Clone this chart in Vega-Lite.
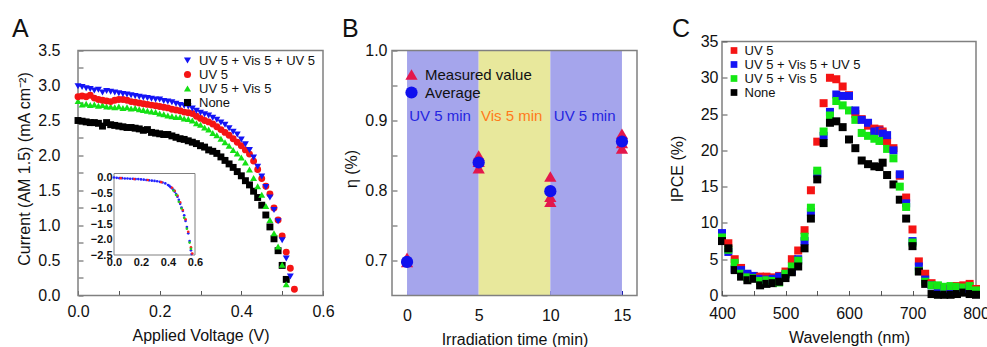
{
  "$schema": "https://vega.github.io/schema/vega-lite/v6.json",
  "padding": {"left": 12, "top": 15.5, "right": 0, "bottom": 0},
  "config": {
    "font": "Liberation Sans",
    "view": {"stroke": "#808080", "strokeWidth": 1.5},
    "axis": {"domain": false, "grid": false, "labelFlush": false, "labelFontSize": 16, "titleFontSize": 16, "titleFontWeight": "normal", "labelColor": "#111", "titleColor": "#111", "tickColor": "#555", "tickSize": -5},
    "legend": {"padding": 0, "labelColor": "#111"},
    "title": {"fontSize": 25, "fontWeight": "normal", "anchor": "start", "frame": "group", "color": "#111"}
  },
  "datasets": {
    "jv": [
      {"V":0.00,"UV 5 + Vis 5 + UV 5":2.99,"UV 5":2.84,"UV 5 + Vis 5":2.78,"None":2.50},
      {"V":0.01,"UV 5 + Vis 5 + UV 5":2.98,"UV 5":2.85,"UV 5 + Vis 5":2.73,"None":2.49},
      {"V":0.02,"UV 5 + Vis 5 + UV 5":2.96,"UV 5":2.84,"UV 5 + Vis 5":2.74,"None":2.48},
      {"V":0.03,"UV 5 + Vis 5 + UV 5":2.95,"UV 5":2.86,"UV 5 + Vis 5":2.72,"None":2.47},
      {"V":0.04,"UV 5 + Vis 5 + UV 5":2.93,"UV 5":2.82,"UV 5 + Vis 5":2.73,"None":2.47},
      {"V":0.05,"UV 5 + Vis 5 + UV 5":2.94,"UV 5":2.80,"UV 5 + Vis 5":2.71,"None":2.46},
      {"V":0.06,"UV 5 + Vis 5 + UV 5":2.90,"UV 5":2.79,"UV 5 + Vis 5":2.72,"None":2.42},
      {"V":0.07,"UV 5 + Vis 5 + UV 5":2.92,"UV 5":2.78,"UV 5 + Vis 5":2.70,"None":2.47},
      {"V":0.08,"UV 5 + Vis 5 + UV 5":2.91,"UV 5":2.77,"UV 5 + Vis 5":2.70,"None":2.44},
      {"V":0.09,"UV 5 + Vis 5 + UV 5":2.90,"UV 5":2.79,"UV 5 + Vis 5":2.69,"None":2.43},
      {"V":0.10,"UV 5 + Vis 5 + UV 5":2.89,"UV 5":2.80,"UV 5 + Vis 5":2.70,"None":2.42},
      {"V":0.11,"UV 5 + Vis 5 + UV 5":2.88,"UV 5":2.80,"UV 5 + Vis 5":2.68,"None":2.41},
      {"V":0.12,"UV 5 + Vis 5 + UV 5":2.87,"UV 5":2.79,"UV 5 + Vis 5":2.69,"None":2.40},
      {"V":0.13,"UV 5 + Vis 5 + UV 5":2.86,"UV 5":2.77,"UV 5 + Vis 5":2.67,"None":2.40},
      {"V":0.14,"UV 5 + Vis 5 + UV 5":2.85,"UV 5":2.76,"UV 5 + Vis 5":2.68,"None":2.39},
      {"V":0.15,"UV 5 + Vis 5 + UV 5":2.84,"UV 5":2.75,"UV 5 + Vis 5":2.66,"None":2.38},
      {"V":0.16,"UV 5 + Vis 5 + UV 5":2.83,"UV 5":2.74,"UV 5 + Vis 5":2.65,"None":2.36},
      {"V":0.17,"UV 5 + Vis 5 + UV 5":2.82,"UV 5":2.73,"UV 5 + Vis 5":2.64,"None":2.37},
      {"V":0.18,"UV 5 + Vis 5 + UV 5":2.81,"UV 5":2.72,"UV 5 + Vis 5":2.63,"None":2.33},
      {"V":0.19,"UV 5 + Vis 5 + UV 5":2.80,"UV 5":2.71,"UV 5 + Vis 5":2.62,"None":2.32},
      {"V":0.20,"UV 5 + Vis 5 + UV 5":2.80,"UV 5":2.70,"UV 5 + Vis 5":2.60,"None":2.31},
      {"V":0.21,"UV 5 + Vis 5 + UV 5":2.78,"UV 5":2.69,"UV 5 + Vis 5":2.59,"None":2.30},
      {"V":0.22,"UV 5 + Vis 5 + UV 5":2.77,"UV 5":2.68,"UV 5 + Vis 5":2.57,"None":2.30},
      {"V":0.23,"UV 5 + Vis 5 + UV 5":2.76,"UV 5":2.66,"UV 5 + Vis 5":2.56,"None":2.28},
      {"V":0.24,"UV 5 + Vis 5 + UV 5":2.74,"UV 5":2.65,"UV 5 + Vis 5":2.55,"None":2.26},
      {"V":0.25,"UV 5 + Vis 5 + UV 5":2.72,"UV 5":2.64,"UV 5 + Vis 5":2.55,"None":2.24},
      {"V":0.26,"UV 5 + Vis 5 + UV 5":2.71,"UV 5":2.62,"UV 5 + Vis 5":2.53,"None":2.23},
      {"V":0.27,"UV 5 + Vis 5 + UV 5":2.70,"UV 5":2.61,"UV 5 + Vis 5":2.52,"None":2.21},
      {"V":0.28,"UV 5 + Vis 5 + UV 5":2.67,"UV 5":2.60,"UV 5 + Vis 5":2.50,"None":2.19},
      {"V":0.29,"UV 5 + Vis 5 + UV 5":2.64,"UV 5":2.56,"UV 5 + Vis 5":2.46,"None":2.17},
      {"V":0.30,"UV 5 + Vis 5 + UV 5":2.61,"UV 5":2.53,"UV 5 + Vis 5":2.44,"None":2.14},
      {"V":0.31,"UV 5 + Vis 5 + UV 5":2.59,"UV 5":2.50,"UV 5 + Vis 5":2.40,"None":2.12},
      {"V":0.32,"UV 5 + Vis 5 + UV 5":2.57,"UV 5":2.48,"UV 5 + Vis 5":2.37,"None":2.08},
      {"V":0.33,"UV 5 + Vis 5 + UV 5":2.54,"UV 5":2.45,"UV 5 + Vis 5":2.32,"None":2.06},
      {"V":0.34,"UV 5 + Vis 5 + UV 5":2.51,"UV 5":2.41,"UV 5 + Vis 5":2.29,"None":2.03},
      {"V":0.35,"UV 5 + Vis 5 + UV 5":2.47,"UV 5":2.37,"UV 5 + Vis 5":2.24,"None":1.98},
      {"V":0.36,"UV 5 + Vis 5 + UV 5":2.44,"UV 5":2.33,"UV 5 + Vis 5":2.19,"None":1.93},
      {"V":0.37,"UV 5 + Vis 5 + UV 5":2.39,"UV 5":2.29,"UV 5 + Vis 5":2.14,"None":1.88},
      {"V":0.38,"UV 5 + Vis 5 + UV 5":2.34,"UV 5":2.24,"UV 5 + Vis 5":2.08,"None":1.83},
      {"V":0.39,"UV 5 + Vis 5 + UV 5":2.30,"UV 5":2.19,"UV 5 + Vis 5":2.03,"None":1.77},
      {"V":0.40,"UV 5 + Vis 5 + UV 5":2.23,"UV 5":2.14,"UV 5 + Vis 5":1.97,"None":1.71},
      {"V":0.41,"UV 5 + Vis 5 + UV 5":2.16,"UV 5":2.08,"UV 5 + Vis 5":1.90,"None":1.64},
      {"V":0.42,"UV 5 + Vis 5 + UV 5":2.08,"UV 5":2.02,"UV 5 + Vis 5":1.80,"None":1.58},
      {"V":0.43,"UV 5 + Vis 5 + UV 5":1.97,"UV 5":1.92,"UV 5 + Vis 5":1.68,"None":1.49},
      {"V":0.44,"UV 5 + Vis 5 + UV 5":1.84,"UV 5":1.80,"UV 5 + Vis 5":1.56,"None":1.40},
      {"V":0.45,"UV 5 + Vis 5 + UV 5":1.70,"UV 5":1.67,"UV 5 + Vis 5":1.44,"None":1.29},
      {"V":0.46,"UV 5 + Vis 5 + UV 5":1.55,"UV 5":1.56,"UV 5 + Vis 5":1.28,"None":1.15},
      {"V":0.47,"UV 5 + Vis 5 + UV 5":1.40,"UV 5":1.45,"UV 5 + Vis 5":1.08,"None":0.98},
      {"V":0.48,"UV 5 + Vis 5 + UV 5":1.22,"UV 5":1.25,"UV 5 + Vis 5":0.89,"None":0.81},
      {"V":0.49,"UV 5 + Vis 5 + UV 5":1.06,"UV 5":1.08,"UV 5 + Vis 5":0.70,"None":0.64},
      {"V":0.50,"UV 5 + Vis 5 + UV 5":0.79,"UV 5":0.85,"UV 5 + Vis 5":0.44,"None":0.43},
      {"V":0.51,"UV 5 + Vis 5 + UV 5":0.53,"UV 5":0.62,"UV 5 + Vis 5":0.16,"None":0.23},
      {"V":0.52,"UV 5 + Vis 5 + UV 5":0.27,"UV 5":0.39},
      {"V":0.53,"UV 5":0.09}
    ],
    "inset": [
      {"V":0.00,"I":0.00,"s":"b"},{"V":0.02,"I":-0.01,"s":"b"},{"V":0.04,"I":-0.02,"s":"b"},{"V":0.06,"I":-0.02,"s":"b"},
      {"V":0.08,"I":-0.03,"s":"b"},{"V":0.10,"I":-0.03,"s":"b"},{"V":0.12,"I":-0.04,"s":"b"},{"V":0.14,"I":-0.04,"s":"b"},
      {"V":0.16,"I":-0.05,"s":"b"},{"V":0.18,"I":-0.05,"s":"b"},{"V":0.20,"I":-0.06,"s":"b"},{"V":0.22,"I":-0.07,"s":"b"},
      {"V":0.24,"I":-0.08,"s":"b"},{"V":0.26,"I":-0.09,"s":"b"},{"V":0.28,"I":-0.10,"s":"b"},{"V":0.30,"I":-0.11,"s":"b"},
      {"V":0.32,"I":-0.12,"s":"b"},{"V":0.34,"I":-0.14,"s":"b"},{"V":0.36,"I":-0.16,"s":"b"},{"V":0.38,"I":-0.19,"s":"b"},
      {"V":0.40,"I":-0.24,"s":"b"},{"V":0.41,"I":-0.27,"s":"b"},{"V":0.42,"I":-0.31,"s":"b"},{"V":0.43,"I":-0.35,"s":"b"},
      {"V":0.44,"I":-0.40,"s":"b"},{"V":0.45,"I":-0.46,"s":"b"},{"V":0.46,"I":-0.53,"s":"b"},{"V":0.47,"I":-0.62,"s":"b"},
      {"V":0.48,"I":-0.72,"s":"b"},{"V":0.49,"I":-0.85,"s":"b"},{"V":0.50,"I":-0.97,"s":"b"},{"V":0.51,"I":-1.08,"s":"b"},
      {"V":0.52,"I":-1.22,"s":"b"},{"V":0.53,"I":-1.40,"s":"b"},{"V":0.54,"I":-1.60,"s":"b"},{"V":0.55,"I":-1.80,"s":"b"},
      {"V":0.56,"I":-2.05,"s":"b"},{"V":0.57,"I":-2.35,"s":"b"},{"V":0.575,"I":-2.47,"s":"b"},
      {"V":0.05,"I":-0.02,"s":"r"},{"V":0.15,"I":-0.05,"s":"r"},{"V":0.25,"I":-0.08,"s":"r"},{"V":0.35,"I":-0.15,"s":"r"},
      {"V":0.43,"I":-0.33,"s":"r"},{"V":0.45,"I":-0.43,"s":"r"},{"V":0.47,"I":-0.58,"s":"r"},{"V":0.49,"I":-0.80,"s":"r"},
      {"V":0.51,"I":-1.05,"s":"r"},{"V":0.53,"I":-1.35,"s":"r"},{"V":0.55,"I":-1.75,"s":"r"},{"V":0.57,"I":-2.25,"s":"r"},
      {"V":0.58,"I":-2.45,"s":"r"},
      {"V":0.44,"I":-0.42,"s":"g"},{"V":0.46,"I":-0.56,"s":"g"},{"V":0.48,"I":-0.78,"s":"g"},{"V":0.50,"I":-1.00,"s":"g"},
      {"V":0.52,"I":-1.30,"s":"g"},{"V":0.54,"I":-1.65,"s":"g"},{"V":0.56,"I":-2.10,"s":"g"},{"V":0.57,"I":-2.30,"s":"g"}
    ],
    "bands": [
      {"start":0,"end":5,"phase":"UV"},
      {"start":5,"end":10,"phase":"Vis"},
      {"start":10,"end":15,"phase":"UV"}
    ],
    "bandLabels": [
      {"t":2.3,"eta":0.906,"label":"UV 5 min","phase":"UV"},
      {"t":7.3,"eta":0.906,"label":"Vis 5 min","phase":"Vis"},
      {"t":12.4,"eta":0.906,"label":"UV 5 min","phase":"UV"}
    ],
    "eta": [
      {"t":0,"eta":0.704,"series":"Measured value"},
      {"t":0,"eta":0.698,"series":"Measured value"},
      {"t":5,"eta":0.850,"series":"Measured value"},
      {"t":5,"eta":0.841,"series":"Measured value"},
      {"t":5,"eta":0.832,"series":"Measured value"},
      {"t":10,"eta":0.820,"series":"Measured value"},
      {"t":10,"eta":0.791,"series":"Measured value"},
      {"t":10,"eta":0.784,"series":"Measured value"},
      {"t":15,"eta":0.881,"series":"Measured value"},
      {"t":15,"eta":0.868,"series":"Measured value"},
      {"t":15,"eta":0.860,"series":"Measured value"},
      {"t":0,"eta":0.698,"series":"Average"},
      {"t":5,"eta":0.840,"series":"Average"},
      {"t":10,"eta":0.799,"series":"Average"},
      {"t":15,"eta":0.870,"series":"Average"}
    ],
    "ipce": [
      {"W":400,"UV 5":8.3,"UV 5 + Vis 5 + UV 5":8.6,"UV 5 + Vis 5":8.0,"None":7.5},
      {"W":410,"UV 5":7.2,"UV 5 + Vis 5 + UV 5":6.0,"UV 5 + Vis 5":6.3,"None":6.5},
      {"W":420,"UV 5":5.0,"UV 5 + Vis 5 + UV 5":3.7,"UV 5 + Vis 5":4.5,"None":3.5},
      {"W":430,"UV 5":3.8,"UV 5 + Vis 5 + UV 5":3.5,"UV 5 + Vis 5":3.0,"None":2.6},
      {"W":440,"UV 5":2.8,"UV 5 + Vis 5 + UV 5":3.0,"UV 5 + Vis 5":2.5,"None":2.1},
      {"W":450,"UV 5":2.6,"UV 5 + Vis 5 + UV 5":2.7,"UV 5 + Vis 5":2.4,"None":2.3},
      {"W":460,"UV 5":2.6,"UV 5 + Vis 5 + UV 5":2.3,"UV 5 + Vis 5":2.0,"None":1.4},
      {"W":470,"UV 5":2.6,"UV 5 + Vis 5 + UV 5":2.2,"UV 5 + Vis 5":2.1,"None":1.6},
      {"W":480,"UV 5":2.5,"UV 5 + Vis 5 + UV 5":2.3,"UV 5 + Vis 5":2.0,"None":1.7},
      {"W":490,"UV 5":2.7,"UV 5 + Vis 5 + UV 5":2.6,"UV 5 + Vis 5":1.8,"None":1.9},
      {"W":500,"UV 5":3.3,"UV 5 + Vis 5 + UV 5":2.9,"UV 5 + Vis 5":3.0,"None":2.4},
      {"W":510,"UV 5":5.0,"UV 5 + Vis 5 + UV 5":3.4,"UV 5 + Vis 5":4.0,"None":3.2},
      {"W":520,"UV 5":6.2,"UV 5 + Vis 5 + UV 5":5.0,"UV 5 + Vis 5":4.8,"None":4.0},
      {"W":530,"UV 5":9.0,"UV 5 + Vis 5 + UV 5":7.5,"UV 5 + Vis 5":8.1,"None":6.5},
      {"W":540,"UV 5":14.5,"UV 5 + Vis 5 + UV 5":11.5,"UV 5 + Vis 5":12.1,"None":10.6},
      {"W":550,"UV 5":21.2,"UV 5 + Vis 5 + UV 5":16.8,"UV 5 + Vis 5":17.2,"None":16.0},
      {"W":560,"UV 5":26.5,"UV 5 + Vis 5 + UV 5":22.0,"UV 5 + Vis 5":22.6,"None":21.0},
      {"W":570,"UV 5":30.0,"UV 5 + Vis 5 + UV 5":25.3,"UV 5 + Vis 5":24.8,"None":23.8},
      {"W":580,"UV 5":29.8,"UV 5 + Vis 5 + UV 5":27.7,"UV 5 + Vis 5":26.8,"None":24.0},
      {"W":590,"UV 5":28.8,"UV 5 + Vis 5 + UV 5":27.5,"UV 5 + Vis 5":26.2,"None":23.2},
      {"W":600,"UV 5":27.6,"UV 5 + Vis 5 + UV 5":27.5,"UV 5 + Vis 5":25.5,"None":21.5},
      {"W":610,"UV 5":25.0,"UV 5 + Vis 5 + UV 5":25.5,"UV 5 + Vis 5":24.2,"None":20.3},
      {"W":620,"UV 5":24.3,"UV 5 + Vis 5 + UV 5":24.2,"UV 5 + Vis 5":22.4,"None":18.6},
      {"W":630,"UV 5":23.4,"UV 5 + Vis 5 + UV 5":23.8,"UV 5 + Vis 5":22.0,"None":18.1},
      {"W":640,"UV 5":23.0,"UV 5 + Vis 5 + UV 5":22.6,"UV 5 + Vis 5":21.6,"None":17.8},
      {"W":648,"UV 5":22.9,"UV 5 + Vis 5 + UV 5":22.7,"UV 5 + Vis 5":21.3,"None":17.7},
      {"W":653,"UV 5":22.6,"UV 5 + Vis 5 + UV 5":22.3,"UV 5 + Vis 5":21.3,"None":18.3},
      {"W":660,"UV 5":21.2,"UV 5 + Vis 5 + UV 5":22.1,"UV 5 + Vis 5":20.2,"None":16.6},
      {"W":670,"UV 5":20.3,"UV 5 + Vis 5 + UV 5":20.0,"UV 5 + Vis 5":18.9,"None":15.3},
      {"W":680,"UV 5":16.5,"UV 5 + Vis 5 + UV 5":16.7,"UV 5 + Vis 5":15.0,"None":13.2},
      {"W":690,"UV 5":13.5,"UV 5 + Vis 5 + UV 5":12.7,"UV 5 + Vis 5":12.2,"None":10.6},
      {"W":700,"UV 5":9.1,"UV 5 + Vis 5 + UV 5":7.5,"UV 5 + Vis 5":7.3,"None":6.8},
      {"W":710,"UV 5":4.7,"UV 5 + Vis 5 + UV 5":4.0,"UV 5 + Vis 5":3.4,"None":3.3},
      {"W":720,"UV 5":3.0,"UV 5 + Vis 5 + UV 5":2.2,"UV 5 + Vis 5":1.9,"None":1.6},
      {"W":730,"UV 5":1.7,"UV 5 + Vis 5 + UV 5":1.4,"UV 5 + Vis 5":1.4,"None":0.2},
      {"W":740,"UV 5":1.2,"UV 5 + Vis 5 + UV 5":1.0,"UV 5 + Vis 5":1.4,"None":0.1},
      {"W":750,"UV 5":1.1,"UV 5 + Vis 5 + UV 5":1.0,"UV 5 + Vis 5":1.2,"None":0.1},
      {"W":760,"UV 5":1.0,"UV 5 + Vis 5 + UV 5":0.9,"UV 5 + Vis 5":1.3,"None":0.1},
      {"W":770,"UV 5":1.3,"UV 5 + Vis 5 + UV 5":0.6,"UV 5 + Vis 5":1.2,"None":0.2},
      {"W":780,"UV 5":1.4,"UV 5 + Vis 5 + UV 5":1.0,"UV 5 + Vis 5":1.1,"None":0.4},
      {"W":790,"UV 5":1.6,"UV 5 + Vis 5 + UV 5":0.9,"UV 5 + Vis 5":1.3,"None":0.2},
      {"W":800,"UV 5":0.9,"UV 5 + Vis 5 + UV 5":0.5,"UV 5 + Vis 5":0.7,"None":0.1}
    ]
  },
  "spacing": 30,
  "resolve": {"scale": {"color": "independent", "shape": "independent", "fill": "independent"}},
  "hconcat": [
    {
      "spacing": 7,
      "resolve": {"scale": {"color": "independent", "shape": "independent", "fill": "independent"}},
      "hconcat": [
        {
          "width": 245,
          "height": 254,
          "view": {"stroke": null},
          "title": {"text": "A", "dx": -66, "offset": 0},
          "layer": [
            {
              "layer": [
                {
                  "data": {"values": [{}]},
                  "mark": {"type": "rect", "filled": false, "color": "#808080", "strokeWidth": 1.5},
                  "encoding": {
                    "x": {"datum": 0, "type": "quantitative", "scale": {"domain": [0, 0.6], "nice": false},
                          "axis": {"title": "Applied Voltage (V)", "values": [0, 0.1, 0.2, 0.3, 0.4, 0.5, 0.6], "format": ".1f", "labelExpr": "indexof(['0.0','0.2','0.4','0.6'], datum.label) >= 0 ? datum.label : ''", "labelPadding": 13, "titlePadding": 8}},
                    "x2": {"datum": 0.6},
                    "y": {"datum": 0, "type": "quantitative", "scale": {"domain": [0, 3.62857], "nice": false},
                          "axis": {"title": "Current (AM 1.5) (mA cm⁻²)", "values": [0, 0.25, 0.5, 0.75, 1, 1.25, 1.5, 1.75, 2, 2.25, 2.5, 2.75, 3, 3.25, 3.5], "labelExpr": "datum.value * 4 % 2 == 0 ? format(datum.value, '.1f') : ''", "labelPadding": 23, "titlePadding": 5}},
                    "y2": {"datum": 3.5}
                  }
                },
                {
                  "data": {"name": "jv"},
                  "transform": [{"fold": ["None", "UV 5 + Vis 5", "UV 5", "UV 5 + Vis 5 + UV 5"], "as": ["series", "I"]}],
                  "mark": {"type": "point", "filled": true, "size": 48, "opacity": 1},
                  "encoding": {
                    "x": {"field": "V", "type": "quantitative", "scale": {"domain": [0, 0.6], "nice": false},
                          "axis": {"title": "Applied Voltage (V)", "values": [0, 0.1, 0.2, 0.3, 0.4, 0.5, 0.6], "format": ".1f", "labelExpr": "indexof(['0.0','0.2','0.4','0.6'], datum.label) >= 0 ? datum.label : ''", "labelPadding": 13, "titlePadding": 8}},
                    "y": {"field": "I", "type": "quantitative", "scale": {"domain": [0, 3.62857], "nice": false},
                          "axis": {"title": "Current (AM 1.5) (mA cm⁻²)", "values": [0, 0.25, 0.5, 0.75, 1, 1.25, 1.5, 1.75, 2, 2.25, 2.5, 2.75, 3, 3.25, 3.5], "labelExpr": "datum.value * 4 % 2 == 0 ? format(datum.value, '.1f') : ''", "labelPadding": 23, "titlePadding": 5}},
                    "color": {"field": "series", "type": "nominal",
                              "scale": {"domain": ["UV 5 + Vis 5 + UV 5", "UV 5", "UV 5 + Vis 5", "None"], "range": ["#1414f5", "#f51414", "#14e014", "#000000"]},
                              "legend": {"title": null, "orient": "none", "legendX": 103, "legendY": 12.5, "labelFontSize": 13, "symbolSize": 50, "rowPadding": -1.3, "labelOffset": 5}},
                    "shape": {"field": "series", "type": "nominal",
                              "scale": {"domain": ["UV 5 + Vis 5 + UV 5", "UV 5", "UV 5 + Vis 5", "None"], "range": ["triangle-down", "circle", "triangle-up", "square"]},
                              "legend": {"title": null, "orient": "none", "legendX": 103, "legendY": 12.5, "labelFontSize": 13, "symbolSize": 50, "rowPadding": -1.3, "labelOffset": 5}}
                  }
                }
              ]
            },
            {
              "layer": [
                {
                  "data": {"values": [{}]},
                  "mark": {"type": "rect", "fill": "white", "stroke": "#808080", "strokeWidth": 1},
                  "encoding": {
                    "x": {"datum": 0, "type": "quantitative", "scale": {"domain": [0, 0.6], "range": [36, 117], "nice": false},
                          "axis": {"orient": "bottom", "offset": -40.5, "values": [0, 0.2, 0.4, 0.6], "format": ".1f", "labelFontSize": 11, "labelFontWeight": "bold", "labelPadding": 1, "ticks": false, "title": null}},
                    "x2": {"datum": 0.6},
                    "y": {"datum": -2.5, "type": "quantitative", "scale": {"domain": [-2.5, 0.13], "range": [213.5, 132], "nice": false, "zero": false},
                          "axis": {"orient": "left", "offset": -36, "values": [0, -0.5, -1, -1.5, -2, -2.5], "format": ".1f", "labelFontSize": 11, "labelFontWeight": "bold", "labelPadding": 2, "ticks": false, "title": null}},
                    "y2": {"datum": 0.13}
                  }
                },
                {
                  "data": {"name": "inset"},
                  "transform": [{"filter": {"field": "s", "equal": "b"}}],
                  "mark": {"type": "circle", "size": 7, "opacity": 1, "color": "#2222ff"},
                  "encoding": {
                    "x": {"field": "V", "type": "quantitative"},
                    "y": {"field": "I", "type": "quantitative"}
                  }
                },
                {
                  "data": {"name": "inset"},
                  "transform": [{"filter": {"field": "s", "equal": "r"}}],
                  "mark": {"type": "circle", "size": 7, "opacity": 1, "color": "#ff2222"},
                  "encoding": {
                    "x": {"field": "V", "type": "quantitative"},
                    "y": {"field": "I", "type": "quantitative"}
                  }
                },
                {
                  "data": {"name": "inset"},
                  "transform": [{"filter": {"field": "s", "equal": "g"}}],
                  "mark": {"type": "circle", "size": 7, "opacity": 1, "color": "#22cc22"},
                  "encoding": {
                    "x": {"field": "V", "type": "quantitative"},
                    "y": {"field": "I", "type": "quantitative"}
                  }
                }
              ]
            }
          ],
          "resolve": {"scale": {"x": "independent", "y": "independent"}}
        },
        {
          "width": 245,
          "height": 254,
          "view": {"stroke": null},
          "title": {"text": "B", "dx": -50, "offset": 0},
          "layer": [
            {
              "data": {"name": "bands"},
              "mark": {"type": "rect"},
              "encoding": {
                "x": {"field": "start", "type": "quantitative", "scale": {"domain": [-1.05, 16.05], "nice": false},
                      "axis": {"title": "Irradiation time (min)", "values": [0, 2.5, 5, 7.5, 10, 12.5, 15], "labelExpr": "datum.value % 5 == 0 ? datum.label : ''", "labelPadding": 17, "titlePadding": 8, "tickColor": "#2020b0"}},
                "x2": {"field": "end"},
                "y": {"datum": 0.65, "type": "quantitative", "scale": {"domain": [0.65, 1.012857], "nice": false, "zero": false},
                      "axis": {"title": "η (%)", "values": [0.7, 0.75, 0.8, 0.85, 0.9, 0.95, 1.0], "labelExpr": "round(datum.value * 100) % 10 == 0 ? format(datum.value, '.1f') : ''", "labelPadding": 10, "titlePadding": 5}},
                "y2": {"datum": 1.0},
                "fill": {"field": "phase", "type": "nominal", "scale": {"domain": ["UV", "Vis"], "range": ["#a5a5ec", "#e8e89c"]}, "legend": null}
              }
            },
            {
              "data": {"values": [{}]},
              "mark": {"type": "rect", "filled": false, "color": "#808080", "strokeWidth": 1.5},
              "encoding": {
                "x": {"datum": -1.05, "type": "quantitative", "title": "Irradiation time (min)"},
                "x2": {"datum": 16.05},
                "y": {"datum": 0.65, "type": "quantitative", "title": "η (%)"},
                "y2": {"datum": 1.0}
              }
            },
            {
              "data": {"name": "bandLabels"},
              "transform": [{"filter": {"field": "phase", "equal": "UV"}}],
              "mark": {"type": "text", "fontSize": 15, "color": "#2424e0"},
              "encoding": {
                "x": {"field": "t", "type": "quantitative", "title": "Irradiation time (min)"},
                "y": {"field": "eta", "type": "quantitative", "title": "η (%)"},
                "text": {"field": "label"}
              }
            },
            {
              "data": {"name": "bandLabels"},
              "transform": [{"filter": {"field": "phase", "equal": "Vis"}}],
              "mark": {"type": "text", "fontSize": 15, "color": "#ff7a1a"},
              "encoding": {
                "x": {"field": "t", "type": "quantitative", "title": "Irradiation time (min)"},
                "y": {"field": "eta", "type": "quantitative", "title": "η (%)"},
                "text": {"field": "label"}
              }
            },
            {
              "data": {"name": "eta"},
              "mark": {"type": "point", "filled": true, "size": 150, "opacity": 1},
              "encoding": {
                "x": {"field": "t", "type": "quantitative", "title": "Irradiation time (min)"},
                "y": {"field": "eta", "type": "quantitative", "title": "η (%)"},
                "color": {"field": "series", "type": "nominal", "scale": {"domain": ["Measured value", "Average"], "range": ["#e3174c", "#1010ee"]},
                          "legend": {"title": null, "orient": "none", "legendX": 12, "legendY": 25.5, "labelFontSize": 15, "symbolSize": 150, "rowPadding": 2, "labelOffset": 6}},
                "shape": {"field": "series", "type": "nominal", "scale": {"domain": ["Measured value", "Average"], "range": ["triangle-up", "circle"]},
                          "legend": {"title": null, "orient": "none", "legendX": 12, "legendY": 25.5, "labelFontSize": 15, "symbolSize": 150, "rowPadding": 2, "labelOffset": 6}}
              }
            }
          ]
        }
      ]
    },
    {
      "width": 254,
      "height": 254,
      "title": {"text": "C", "dx": -50, "offset": -8},
      "data": {"name": "ipce"},
      "transform": [{"fold": ["UV 5", "UV 5 + Vis 5 + UV 5", "UV 5 + Vis 5", "None"], "as": ["series", "IPCE"]}],
      "mark": {"type": "square", "size": 64, "opacity": 1},
      "encoding": {
        "x": {"field": "W", "type": "quantitative", "scale": {"domain": [400, 800], "nice": false},
              "axis": {"title": "Wavelength (nm)", "values": [400, 450, 500, 550, 600, 650, 700, 750, 800], "labelExpr": "datum.value % 100 == 0 ? datum.label : ''", "labelPadding": 15, "titlePadding": 8}},
        "y": {"field": "IPCE", "type": "quantitative", "scale": {"domain": [0, 35], "nice": false},
              "axis": {"title": "IPCE (%)", "values": [0, 5, 10, 15, 20, 25, 30, 35], "labelPadding": 9, "titlePadding": 15}},
        "color": {"field": "series", "type": "nominal",
                  "scale": {"domain": ["UV 5", "UV 5 + Vis 5 + UV 5", "UV 5 + Vis 5", "None"], "range": ["#f51414", "#1414f5", "#14e814", "#000000"]},
                  "legend": {"title": null, "orient": "none", "legendX": 5.5, "legendY": 2.5, "labelFontSize": 13, "symbolSize": 45, "rowPadding": 0, "labelOffset": 4, "symbolType": "square"}}
      }
    }
  ]
}
